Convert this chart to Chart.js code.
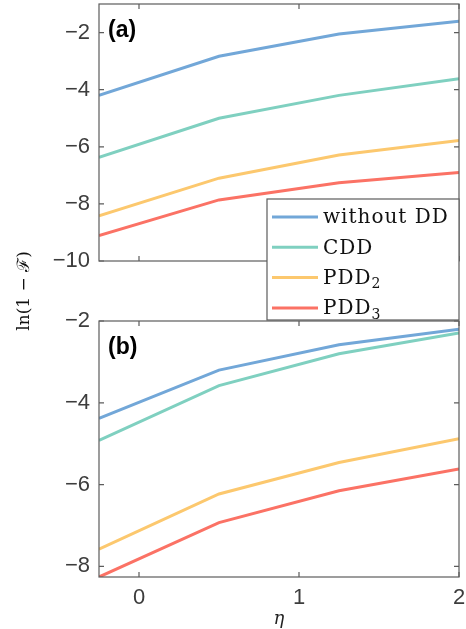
<!DOCTYPE html>
<html>
<head>
<meta charset="utf-8">
<script src="https://cdn.jsdelivr.net/npm/chart.js@4"></script>
<style>
  html, body { margin: 0; padding: 0; background: #fff; }
  #wrap { position: relative; width: 466px; height: 629px; overflow: hidden; }
  #cv-b { position: absolute; left: 0; top: 300px; }
  #cv-a { position: absolute; left: 0; top: 0; }
</style>
</head>
<body>
<div id="wrap">
  <canvas id="cv-b" width="466" height="329"></canvas>
  <canvas id="cv-a" width="466" height="340"></canvas>
</div>
<script>
// Dados
const eta = [-0.25, 0.5, 1.25, 2];
const nomes = ['without DD', 'CDD', 'PDD2', 'PDD3'];
const cores = ['#72a7d8', '#7fd0c0', '#fcc86e', '#fb7265'];

// painel (a)
const semDD_a = [-4.2, -2.83, -2.05, -1.6];
const cdd_a = [-6.37, -5.0, -4.2, -3.62];
const pdd2_a = [-8.42, -7.1, -6.29, -5.78];
const pdd3_a = [-9.11, -7.86, -7.26, -6.9];

// painel (b)
const semDD_b = [-4.38, -3.2, -2.58, -2.2];
const cdd_b = [-4.92, -3.58, -2.8, -2.29];
const pdd2_b = [-7.58, -6.23, -5.46, -4.88];
const pdd3_b = [-8.26, -6.93, -6.15, -5.62];

// ticks
const xTicks = [0, 1, 2];
const yTicksA = [-10, -8, -6, -4, -2];
const yTicksB = [-8, -6, -4, -2];

const corEixo = '#5c5c5c';
const corTexto = '#3d3d3d';

function montarDatasets(series) {
    return series.map((s, i) => ({
        label: nomes[i],
        data: s.map((v, k) => ({ x: eta[k], y: v })),
        borderColor: cores[i],
        backgroundColor: cores[i],
        borderWidth: 3,
        pointRadius: 0,
        tension: 0,
        fill: false
    }));
}

// caixa + ticks para dentro nos quatro lados
const caixaPlugin = {
    id: 'caixa',
    afterDraw(chart, args, opts) {
        const ctx = chart.ctx;
        const a = chart.chartArea;
        const xs = chart.scales.x, ys = chart.scales.y;
        const tl = 5;
        ctx.save();
        ctx.strokeStyle = corEixo;
        ctx.lineWidth = 1.2;
        ctx.beginPath();
        xs.ticks.forEach(t => {
            const px = xs.getPixelForValue(t.value);
            ctx.moveTo(px, a.bottom); ctx.lineTo(px, a.bottom - tl);
            ctx.moveTo(px, a.top); ctx.lineTo(px, a.top + tl);
        });
        ys.ticks.forEach(t => {
            const py = ys.getPixelForValue(t.value);
            ctx.moveTo(a.left, py); ctx.lineTo(a.left + tl, py);
            ctx.moveTo(a.right, py); ctx.lineTo(a.right - tl, py);
        });
        ctx.stroke();
        ctx.strokeRect(a.left, a.top, a.right - a.left, a.bottom - a.top);

        // rótulo do painel
        ctx.fillStyle = '#000';
        ctx.font = 'bold 23px "Liberation Sans", Arial, sans-serif';
        ctx.textBaseline = 'alphabetic';
        ctx.textAlign = 'left';
        ctx.fillText(opts.rotulo, a.left + 9, a.top + 33);
        ctx.restore();
    }
};

// legenda e rótulo do eixo y (só no painel de cima)
const legendaPlugin = {
    id: 'legenda',
    afterDraw(chart) {
        const ctx = chart.ctx;
        const a = chart.chartArea;
        const bx = a.left + 168, by = a.bottom - 62;
        const bw = a.right - bx, bh = 121;
        ctx.save();
        ctx.fillStyle = '#fff';
        ctx.fillRect(bx, by, bw, bh);
        ctx.strokeStyle = corEixo;
        ctx.lineWidth = 1.2;
        ctx.strokeRect(bx, by, bw, bh);

        chart.data.datasets.forEach((ds, i) => {
            const y = by + 18 + i * 30.3;
            ctx.strokeStyle = ds.borderColor;
            ctx.lineWidth = 3;
            ctx.beginPath();
            ctx.moveTo(bx + 5, y);
            ctx.lineTo(bx + 51, y);
            ctx.stroke();

            ctx.fillStyle = '#111';
            ctx.textBaseline = 'middle';
            ctx.textAlign = 'left';
            ctx.letterSpacing = '1px';
            const m = ds.label.match(/^(PDD)(\d)$/);
            ctx.font = '20px "DejaVu Serif", serif';
            if (m) {
                ctx.fillText(m[1], bx + 56, y + 1);
                const w = ctx.measureText(m[1]).width;
                ctx.font = '14px "DejaVu Serif", serif';
                ctx.fillText(m[2], bx + 56 + w, y + 7);
            } else {
                ctx.fillText(ds.label, bx + 56, y + 1);
            }
        });

        // rótulo y
        ctx.letterSpacing = '0px';
        ctx.translate(25, 291);
        ctx.rotate(-Math.PI / 2);
        ctx.fillStyle = '#111';
        ctx.textAlign = 'center';
        ctx.textBaseline = 'middle';
        ctx.font = '17px "DejaVu Serif", serif';
        ctx.fillText('ln(1 \u2212 \u2131)', 0, 0);
        ctx.restore();
    }
};

function fmtMenos(v) {
    return String(v).replace('-', '\u2212');
}

function opcoes(rotulo, yMin, yMax, yTicks, mostrarX, alturaX, padTop) {
    return {
        responsive: false,
        animation: false,
        layout: { padding: { left: 0, right: 7, top: padTop, bottom: 0 } },
        plugins: {
            legend: { display: false },
            tooltip: { enabled: false },
            caixa: { rotulo: rotulo }
        },
        scales: {
            x: {
                type: 'linear',
                min: -0.25,
                max: 2,
                afterBuildTicks: s => { s.ticks = xTicks.map(v => ({ value: v })); },
                afterFit: s => { s.height = alturaX; s.paddingLeft = 0; s.paddingRight = 0; },
                grid: { display: false, drawTicks: false },
                border: { display: false },
                ticks: {
                    display: mostrarX,
                    padding: 8,
                    color: corTexto,
                    font: { size: 22, family: '"Liberation Sans", Arial, sans-serif' },
                    callback: v => fmtMenos(v)
                },
                title: {
                    display: mostrarX,
                    text: '\u03b7',
                    color: '#222',
                    padding: { top: 0, bottom: -1 },
                    font: { size: 18, style: 'italic', family: '"DejaVu Serif", serif' }
                }
            },
            y: {
                type: 'linear',
                min: yMin,
                max: yMax,
                afterBuildTicks: s => { s.ticks = yTicks.map(v => ({ value: v })); },
                afterFit: s => { s.width = 99; s.paddingTop = 0; s.paddingBottom = 0; },
                grid: { display: false, drawTicks: false },
                border: { display: false },
                ticks: {
                    padding: 9,
                    color: corTexto,
                    font: { size: 22, family: '"Liberation Sans", Arial, sans-serif' },
                    callback: v => fmtMenos(v)
                }
            }
        }
    };
}

// painel (b) embaixo
new Chart(document.getElementById('cv-b').getContext('2d'), {
    type: 'line',
    data: { datasets: montarDatasets([semDD_b, cdd_b, pdd2_b, pdd3_b]) },
    options: opcoes('(b)', -8.26, -2, yTicksB, true, 52, 21),
    plugins: [caixaPlugin]
});

// painel (a) em cima
new Chart(document.getElementById('cv-a').getContext('2d'), {
    type: 'line',
    data: { datasets: montarDatasets([semDD_a, cdd_a, pdd2_a, pdd3_a]) },
    options: opcoes('(a)', -10, -1, yTicksA, false, 79, 4),
    plugins: [caixaPlugin, legendaPlugin]
});
</script>
</body>
</html>
